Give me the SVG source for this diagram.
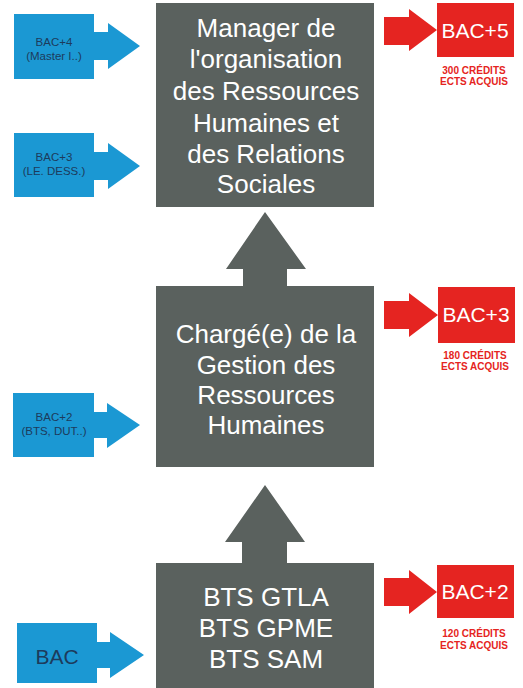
<svg xmlns="http://www.w3.org/2000/svg" width="523" height="688" viewBox="0 0 523 688">
<style>
.gray{fill:#5a615e}
.blue{fill:#1b98d3}
.red{fill:#e52421}
.gt{font-family:"Liberation Sans",Arial,sans-serif;font-size:26px;fill:#fff;text-anchor:middle}
.bt{font-family:"Liberation Sans",Arial,sans-serif;font-size:11.5px;fill:#1d3b5c;text-anchor:middle}
.rt{font-family:"Liberation Sans",Arial,sans-serif;font-size:21px;fill:#fff;text-anchor:middle}
.rs{font-family:"Liberation Sans",Arial,sans-serif;font-size:10px;font-weight:bold;fill:#e52421;text-anchor:middle}
</style>
<rect width="523" height="688" fill="#fff"/>
<g id="connectors">
<polygon class="gray" points="265,212 306,269 287,269 287,290 243,290 243,269 226,269"/>
<polygon class="gray" points="265,485 305,542 287,542 287,566 242,566 242,542 225,542"/>
</g>
<g id="manager">
<rect class="gray" x="156" y="3" width="218" height="204"/>
<text class="gt" x="266" y="37">Manager de</text>
<text class="gt" x="266" y="68">l'organisation</text>
<text class="gt" x="266" y="100">des Ressources</text>
<text class="gt" x="266" y="132">Humaines et</text>
<text class="gt" x="266" y="163">des Relations</text>
<text class="gt" x="266" y="193">Sociales</text>
</g>
<g id="charge">
<rect class="gray" x="156" y="286" width="218" height="181"/>
<text class="gt" x="266" y="343">Chargé(e) de la</text>
<text class="gt" x="266" y="374">Gestion des</text>
<text class="gt" x="266" y="404">Ressources</text>
<text class="gt" x="266" y="434">Humaines</text>
</g>
<g id="bts">
<rect class="gray" x="156" y="563" width="218" height="125"/>
<text class="gt" x="266" y="606">BTS GTLA</text>
<text class="gt" x="266" y="637">BTS GPME</text>
<text class="gt" x="266" y="668">BTS SAM</text>
</g>
<g id="bac4">
<rect class="blue" x="14" y="14" width="80" height="65"/>
<polygon class="blue" points="93,32 108,32 108,23 140,46 108,69 108,60 93,60"/>
<text class="bt" x="54" y="46">BAC+4</text>
<text class="bt" x="54" y="60">(Master I..)</text>
</g>
<g id="bac3in">
<rect class="blue" x="14" y="133" width="80" height="64"/>
<polygon class="blue" points="93,152 108,152 108,143 140,166 108,189 108,180 93,180"/>
<text class="bt" x="54" y="161">BAC+3</text>
<text class="bt" x="54" y="175">(LE. DESS.)</text>
</g>
<g id="bac2in">
<rect class="blue" x="13" y="393" width="81" height="64"/>
<polygon class="blue" points="93,412 107,412 107,403 140,425 107,448 107,438 93,438"/>
<text class="bt" x="54" y="421">BAC+2</text>
<text class="bt" x="54" y="435">(BTS, DUT..)</text>
</g>
<g id="bac">
<rect class="blue" x="17" y="623" width="80" height="60"/>
<polygon class="blue" points="96,642 110,642 110,632 144,655 110,678 110,668 96,668"/>
<text x="57" y="664" font-family="Liberation Sans, Arial, sans-serif" font-size="21" fill="#1d3b5c" text-anchor="middle">BAC</text>
</g>
<g id="bac5">
<polygon class="red" points="384,17 409,17 409,9 437,30 409,51 409,45 384,45"/>
<rect class="red" x="437" y="3" width="77" height="54"/>
<text class="rt" x="475" y="38">BAC+5</text>
<text class="rs" x="474" y="74">300 CRÉDITS</text>
<text class="rs" x="474" y="85">ECTS ACQUIS</text>
</g>
<g id="bac3out">
<polygon class="red" points="384,301 409,301 409,293 438,315 409,337 409,329 384,329"/>
<rect class="red" x="438" y="287" width="77" height="56"/>
<text class="rt" x="476" y="322">BAC+3</text>
<text class="rs" x="475" y="359">180 CRÉDITS</text>
<text class="rs" x="475" y="370">ECTS ACQUIS</text>
</g>
<g id="bac2out">
<polygon class="red" points="384,578 409,578 409,570 437,592 409,614 409,606 384,606"/>
<rect class="red" x="437" y="565" width="77" height="53"/>
<text class="rt" x="475" y="599">BAC+2</text>
<text class="rs" x="474" y="637">120 CRÉDITS</text>
<text class="rs" x="474" y="649">ECTS ACQUIS</text>
</g>
</svg>
